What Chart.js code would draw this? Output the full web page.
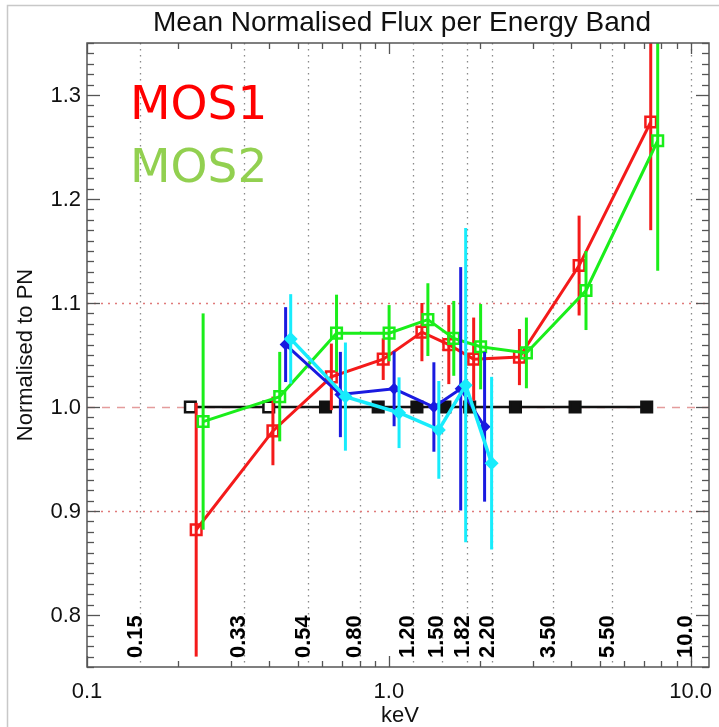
<!DOCTYPE html>
<html>
<head>
<meta charset="utf-8">
<title>Mean Normalised Flux per Energy Band</title>
<script src="https://cdn.jsdelivr.net/npm/chart.js@4.4.1/dist/chart.umd.min.js"></script>
<style>
  html, body { margin: 0; padding: 0; background: #fff; }
  canvas { display: block; }
</style>
</head>
<body>
<canvas id="fluxChart" width="719" height="727"></canvas>
<script>
// energy band edges (keV) and their labels
const bandEdges = [0.15, 0.33, 0.54, 0.80, 1.20, 1.50, 1.82, 2.20, 3.50, 5.50, 10.0];
const bandLabels = ['0.15', '0.33', '0.54', '0.80', '1.20', '1.50', '1.82', '2.20', '3.50', '5.50', '10.0'];

// axis ticks
const xTickValues = [0.1, 1, 10];
const xTickLabels = ['0.1', '1.0', '10.0'];
const yTickValues = [0.8, 0.9, 1.0, 1.1, 1.2, 1.3];
const yTickLabels = ['0.8', '0.9', '1.0', '1.1', '1.2', '1.3'];

// PN reference (always 1)
const pnEnergy = [0.22, 0.40, 0.617, 0.922, 1.239, 1.533, 1.853, 2.627, 4.14, 7.15];
const pnFlux = [1, 1, 1, 1, 1, 1, 1, 1, 1, 1];

// MOS1
const mos1Energy = [0.230, 0.413, 0.645, 0.958, 1.287, 1.580, 1.910, 2.708, 4.269, 7.373];
const mos1Flux = [0.882, 0.977, 1.029, 1.046, 1.072, 1.060, 1.046, 1.048, 1.136, 1.274];
const mos1Err = [0.122, 0.033, 0.032, 0.020, 0.028, 0.038, 0.040, 0.027, 0.048, 0.104];

// MOS2
const mos2Energy = [0.2425, 0.435, 0.671, 1.002, 1.347, 1.641, 2.014, 2.856, 4.50, 7.776];
const mos2Flux = [0.986, 1.010, 1.071, 1.071, 1.084, 1.066, 1.058, 1.052, 1.112, 1.256];
const mos2Err = [0.104, 0.043, 0.037, 0.027, 0.035, 0.036, 0.041, 0.034, 0.038, 0.125];

// blue set
const blueEnergy = [0.455, 0.691, 1.041, 1.410, 1.730, 2.076];
const blueFlux = [1.060, 1.012, 1.0175, 1.000, 1.0175, 0.981];
const blueErr = [0.036, 0.041, 0.036, 0.043, 0.117, 0.072];

// cyan set
const cyanEnergy = [0.473, 0.718, 1.081, 1.464, 1.797, 2.190];
const cyanFlux = [1.0655, 1.010, 0.9945, 0.978, 1.021, 0.946];
const cyanErr = [0.043, 0.052, 0.034, 0.047, 0.151, 0.083];

const toPoints = (xs, ys) => xs.map((v, i) => ({ x: v, y: ys[i] }));

const sansFont = '"Liberation Sans", Arial, Helvetica, sans-serif';

function strokeLine(ctx, x1, y1, x2, y2) {
    ctx.beginPath();
    ctx.moveTo(x1, y1);
    ctx.lineTo(x2, y2);
    ctx.stroke();
}

const fluxPlugin = {
    id: 'fluxPlugin',
    beforeDraw(chart) {
        const { ctx, chartArea: a, scales: { x, y } } = chart;
        ctx.save();
        ctx.fillStyle = '#fff';
        ctx.fillRect(0, 0, chart.width, chart.height);

        // light frame round the figure
        ctx.strokeStyle = '#c8c8c8';
        ctx.lineWidth = 1.5;
        ctx.beginPath();
        ctx.moveTo(7.5, chart.height);
        ctx.lineTo(7.5, 5.5);
        ctx.lineTo(chart.width, 5.5);
        ctx.stroke();

        // dotted band edges
        ctx.strokeStyle = '#8a8a8a';
        ctx.lineWidth = 1.3;
        ctx.setLineDash([1.5, 4.5]);
        bandEdges.forEach(e => {
            const px = Math.round(x.getPixelForValue(e)) + 0.5;
            strokeLine(ctx, px, a.top, px, a.bottom);
        });

        // reference levels
        ctx.strokeStyle = '#e07a7a';
        ctx.lineWidth = 1.5;
        ctx.setLineDash([2, 5]);
        [0.9, 1.1].forEach(v => {
            const py = Math.round(y.getPixelForValue(v)) + 0.5;
            strokeLine(ctx, a.left, py, a.right, py);
        });
        ctx.strokeStyle = '#e49c9c';
        ctx.setLineDash([8, 7]);
        const p1 = Math.round(y.getPixelForValue(1.0)) + 0.5;
        strokeLine(ctx, a.left, p1, a.right, p1);
        ctx.restore();
    },
    beforeDatasetDraw(chart, args) {
        const ds = chart.data.datasets[args.index];
        if (!ds.errors) return;
        const { ctx, chartArea: a, scales: { x, y } } = chart;
        ctx.save();
        ctx.beginPath();
        ctx.rect(a.left, a.top, a.width, a.height);
        ctx.clip();
        ctx.strokeStyle = ds.borderColor;
        ctx.lineWidth = ds.errWidth || 3;
        ds.data.forEach((p, i) => {
            const px = x.getPixelForValue(p.x);
            strokeLine(ctx, px, y.getPixelForValue(p.y - ds.errors[i]), px, y.getPixelForValue(p.y + ds.errors[i]));
        });
        ctx.restore();
    },
    afterDraw(chart) {
        const { ctx, chartArea: a, scales: { x, y } } = chart;
        ctx.save();

        // plot box
        ctx.strokeStyle = '#555';
        ctx.lineWidth = 1.5;
        ctx.strokeRect(a.left, a.top, a.right - a.left, a.bottom - a.top);

        // x ticks, top and bottom
        ctx.lineWidth = 1.3;
        for (const dec of [0.1, 1, 10]) {
            for (let k = 1; k <= 9; k++) {
                const v = dec * k;
                if (v > x.max) break;
                const px = Math.round(x.getPixelForValue(v)) + 0.5;
                const len = k === 1 ? 11 : 6;
                strokeLine(ctx, px, a.bottom, px, a.bottom - len);
                strokeLine(ctx, px, a.top, px, a.top + len);
            }
        }
        // y ticks, left and right
        for (let i = 75; i <= 135; i++) {
            const v = i / 100;
            const py = Math.round(y.getPixelForValue(v)) + 0.5;
            const len = i % 10 === 0 ? 13 : 7;
            strokeLine(ctx, a.left, py, a.left + len, py);
            strokeLine(ctx, a.right, py, a.right - len, py);
        }

        ctx.fillStyle = '#111';
        ctx.font = '22px ' + sansFont;

        // y tick labels
        ctx.textAlign = 'right';
        ctx.textBaseline = 'middle';
        yTickValues.forEach((v, i) => {
            ctx.fillText(yTickLabels[i], a.left - 6, y.getPixelForValue(v) + 1);
        });

        // x tick labels
        ctx.textAlign = 'center';
        ctx.textBaseline = 'alphabetic';
        xTickValues.forEach((v, i) => {
            ctx.fillText(xTickLabels[i], x.getPixelForValue(v), 698);
        });

        // axis titles
        ctx.fillText('keV', (a.left + a.right) / 2 + 2, 722);
        ctx.save();
        ctx.translate(32, 355);
        ctx.rotate(-Math.PI / 2);
        ctx.fillText('Normalised to PN', 0, 0);
        ctx.restore();

        // title
        ctx.font = '28px ' + sansFont;
        ctx.fillText('Mean Normalised Flux per Energy Band', 402, 31);

        // band edge labels, rotated
        ctx.fillStyle = '#000';
        ctx.font = 'bold 22px ' + sansFont;
        ctx.textAlign = 'left';
        bandEdges.forEach((e, i) => {
            ctx.save();
            ctx.translate(x.getPixelForValue(e) + 1.5, 658);
            ctx.rotate(-Math.PI / 2);
            ctx.fillText(bandLabels[i], 0, 0);
            ctx.restore();
        });

        // instrument labels
        ctx.font = '47px "DejaVu Sans", Verdana, sans-serif';
        ctx.fillStyle = '#ff0000';
        ctx.fillText('MOS1', 130, 119);
        ctx.fillStyle = '#92d050';
        ctx.fillText('MOS2', 130, 182);

        ctx.restore();
    }
};

new Chart(document.getElementById('fluxChart').getContext('2d'), {
    type: 'scatter',
    data: {
        datasets: [
            {
                label: 'cyan',
                data: toPoints(cyanEnergy, cyanFlux),
                errors: cyanErr,
                showLine: true,
                borderColor: '#18ecfc',
                backgroundColor: '#18ecfc',
                borderWidth: 3.5,
                pointStyle: 'rectRot',
                pointRadius: 7,
                pointBorderWidth: 0
            },
            {
                label: 'blue',
                data: toPoints(blueEnergy, blueFlux),
                errors: blueErr,
                showLine: true,
                borderColor: '#1a1ae0',
                backgroundColor: '#1a1ae0',
                borderWidth: 3,
                pointStyle: 'rectRot',
                pointRadius: 6,
                pointBorderWidth: 0
            },
            {
                label: 'MOS2',
                data: toPoints(mos2Energy, mos2Flux),
                errors: mos2Err,
                showLine: true,
                borderColor: '#1aee1a',
                backgroundColor: 'rgba(0,0,0,0)',
                borderWidth: 3,
                pointStyle: 'rect',
                pointRadius: 7.5,
                pointBorderWidth: 2.5
            },
            {
                label: 'MOS1',
                data: toPoints(mos1Energy, mos1Flux),
                errors: mos1Err,
                showLine: true,
                borderColor: '#f41a1a',
                backgroundColor: 'rgba(0,0,0,0)',
                borderWidth: 3,
                pointStyle: 'rect',
                pointRadius: 7.5,
                pointBorderWidth: 2.5
            },
            {
                label: 'PN',
                data: toPoints(pnEnergy, pnFlux),
                showLine: true,
                borderColor: '#111',
                backgroundColor: '#111',
                borderWidth: 2.5,
                pointStyle: 'rect',
                pointRadius: 7.5,
                pointBorderWidth: 2.5,
                pointBackgroundColor: pnEnergy.map((e, i) => i < 2 ? '#fff' : '#111')
            }
        ]
    },
    options: {
        responsive: false,
        animation: false,
        events: [],
        layout: { padding: { left: 87, top: 43, right: 6, bottom: 60 } },
        plugins: {
            legend: { display: false },
            tooltip: { enabled: false }
        },
        scales: {
            x: { type: 'logarithmic', min: 0.1, max: 11.5, display: false },
            y: { type: 'linear', min: 0.75, max: 1.35, display: false }
        }
    },
    plugins: [fluxPlugin]
});
</script>
</body>
</html>
